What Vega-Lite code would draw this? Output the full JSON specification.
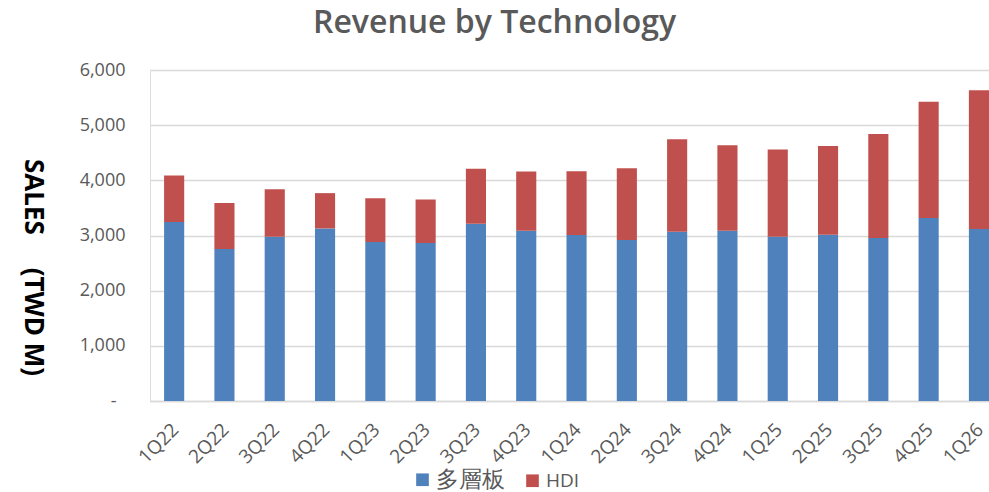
{
  "$schema": "https://vega.github.io/schema/vega-lite/v6.json",
  "width": 839,
  "height": 331,
  "autosize": {"type": "none"},
  "padding": {"left": 150, "top": 70, "right": 0, "bottom": 91},
  "background": "white",
  "title": {
    "text": "Revenue by Technology",
    "font": "Open Sans",
    "fontSize": 32,
    "fontWeight": 600,
    "color": "#595959",
    "anchor": "middle",
    "baseline": "alphabetic",
    "offset": 30,
    "dx": -75,
    "dy": 34
  },
  "data": {
    "values": [
      {"q": "1Q22", "tech": "多層板", "k": 1, "v": 3243}, {"q": "1Q22", "tech": "HDI", "k": 2, "v": 844},
      {"q": "2Q22", "tech": "多層板", "k": 1, "v": 2755}, {"q": "2Q22", "tech": "HDI", "k": 2, "v": 832},
      {"q": "3Q22", "tech": "多層板", "k": 1, "v": 2977}, {"q": "3Q22", "tech": "HDI", "k": 2, "v": 863},
      {"q": "4Q22", "tech": "多層板", "k": 1, "v": 3128}, {"q": "4Q22", "tech": "HDI", "k": 2, "v": 640},
      {"q": "1Q23", "tech": "多層板", "k": 1, "v": 2881}, {"q": "1Q23", "tech": "HDI", "k": 2, "v": 796},
      {"q": "2Q23", "tech": "多層板", "k": 1, "v": 2863}, {"q": "2Q23", "tech": "HDI", "k": 2, "v": 789},
      {"q": "3Q23", "tech": "多層板", "k": 1, "v": 3213}, {"q": "3Q23", "tech": "HDI", "k": 2, "v": 995},
      {"q": "4Q23", "tech": "多層板", "k": 1, "v": 3086}, {"q": "4Q23", "tech": "HDI", "k": 2, "v": 1073},
      {"q": "1Q24", "tech": "多層板", "k": 1, "v": 3008}, {"q": "1Q24", "tech": "HDI", "k": 2, "v": 1158},
      {"q": "2Q24", "tech": "多層板", "k": 1, "v": 2917}, {"q": "2Q24", "tech": "HDI", "k": 2, "v": 1303},
      {"q": "3Q24", "tech": "多層板", "k": 1, "v": 3068}, {"q": "3Q24", "tech": "HDI", "k": 2, "v": 1677},
      {"q": "4Q24", "tech": "多層板", "k": 1, "v": 3086}, {"q": "4Q24", "tech": "HDI", "k": 2, "v": 1551},
      {"q": "1Q25", "tech": "多層板", "k": 1, "v": 2977}, {"q": "1Q25", "tech": "HDI", "k": 2, "v": 1581},
      {"q": "2Q25", "tech": "多層板", "k": 1, "v": 3014}, {"q": "2Q25", "tech": "HDI", "k": 2, "v": 1610},
      {"q": "3Q25", "tech": "多層板", "k": 1, "v": 2953}, {"q": "3Q25", "tech": "HDI", "k": 2, "v": 1889},
      {"q": "4Q25", "tech": "多層板", "k": 1, "v": 3316}, {"q": "4Q25", "tech": "HDI", "k": 2, "v": 2110},
      {"q": "1Q26", "tech": "多層板", "k": 1, "v": 3117}, {"q": "1Q26", "tech": "HDI", "k": 2, "v": 2515}
    ]
  },
  "mark": {"type": "bar"},
  "encoding": {
    "x": {
      "field": "q",
      "type": "nominal",
      "sort": null,
      "scale": {"paddingInner": 0.6, "paddingOuter": 0.14, "align": 1},
      "axis": {
        "title": null,
        "labelAngle": -45,
        "labelAlign": "right",
        "labelBaseline": "top",
        "labelPadding": 19,
        "labelOffset": -5,
        "labelFont": "Open Sans",
        "labelFontSize": 19,
        "labelColor": "#595959",
        "ticks": false,
        "domainColor": "#d9d9d9",
        "domainWidth": 1.5,
        "grid": false
      }
    },
    "y": {
      "field": "v",
      "type": "quantitative",
      "stack": "zero",
      "scale": {"domain": [0, 6000], "nice": false},
      "axis": {
        "title": "SALES\u3000 (TWD M)",
        "titleAngle": 90,
        "titleFont": "Liberation Sans Narrow, Open Sans",
        "titleFontSize": 26,
        "titleFontWeight": "bold",
        "titleColor": "#000000",
        "titleX": -118,
        "titleY": 197,
        "titleAlign": "center",
        "titleBaseline": "middle",
        "values": [0, 1000, 2000, 3000, 4000, 5000, 6000],
        "labelExpr": "datum.value === 0 ? '-' : format(datum.value, ',')",
        "labelFont": "Open Sans",
        "labelFontSize": 18,
        "labelColor": "#595959",
        "labelPadding": {"condition": {"test": "datum.value === 0", "value": 34}, "value": 25},
        "ticks": false,
        "domain": false,
        "gridColor": "#d9d9d9",
        "gridWidth": 1.5
      }
    },
    "color": {
      "field": "tech",
      "type": "nominal",
      "scale": {"domain": ["多層板", "HDI"], "range": ["#4F81BD", "#C0504D"]},
      "legend": {
        "title": null,
        "orient": "none",
        "direction": "horizontal",
        "legendX": 261,
        "legendY": 398,
        "symbolType": "square",
        "symbolSize": 160,
        "symbolStrokeWidth": 0,
        "labelFont": "Open Sans",
        "labelFontSize": 19,
        "labelColor": "#595959",
        "labelOffset": 2,
        "columnPadding": 16,
        "labelLimit": 300,
        "encode": {
          "labels": {"update": {"fontSize": {"signal": "datum.value === 'HDI' ? 19 : 23"}}}
        }
      }
    },
    "order": {"field": "k", "type": "quantitative"}
  }
}
